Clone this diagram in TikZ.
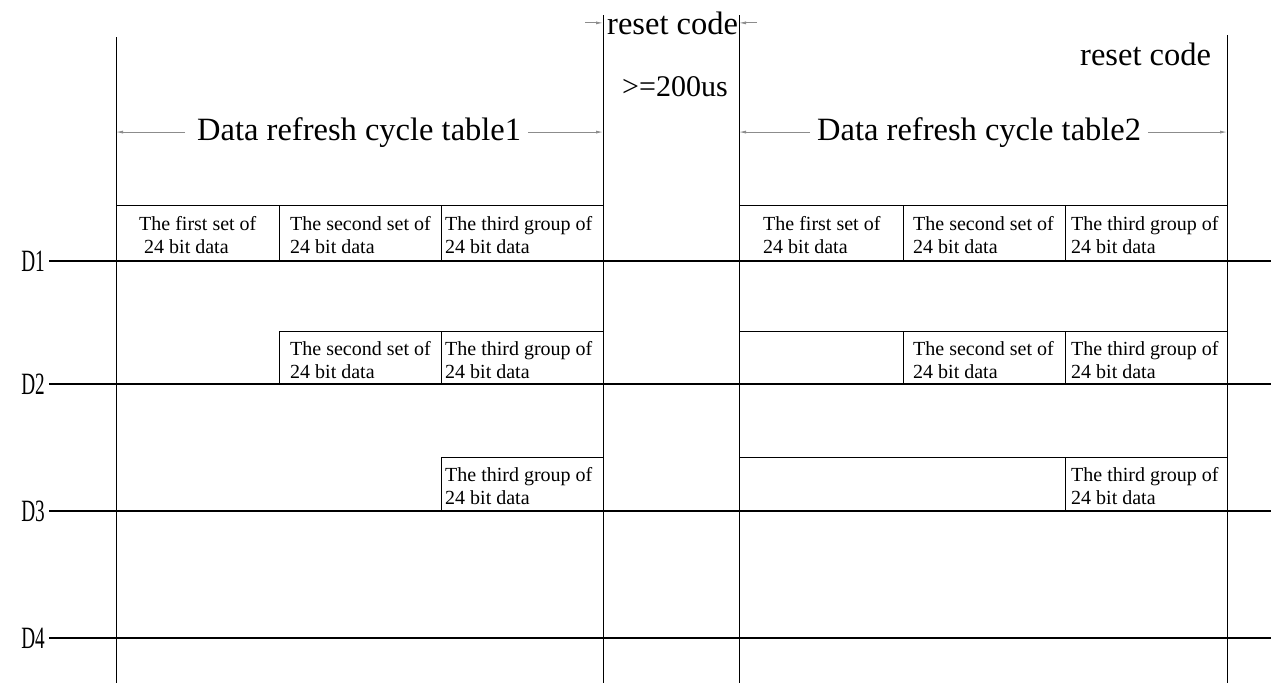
\documentclass[tikz,border=0pt]{standalone}
\usepackage{fontspec}
\usepackage{graphicx}
\setmainfont{Liberation Serif}
\usetikzlibrary{arrows.meta}
\newcommand{\datacell}[5]{%
  \node[cell] (#1a) at (#2,#3) {#4};
  \node[cell] (#1b) at (#2,#3+23) {#5};}
\begin{document}
\begin{tikzpicture}[x=1pt,y=-1pt,
  grid/.style={line width=1pt, black},
  sig/.style={line width=1.3pt, black},
  dim/.style={line width=0.8pt, black!45, -{Latex[length=7pt,width=3pt]}},
  big/.style={font=\fontsize{32.5}{36}\selectfont, inner sep=0, anchor=base west},
  cell/.style={font=\fontsize{20}{23}\selectfont, inner sep=0, anchor=base west},
  dlab/.style={inner sep=0, anchor=east}]
\useasboundingbox (0,0) rectangle (1271,683);

% column coordinates
\coordinate (c116) at (116,0);
\coordinate (c603) at (603,0);
\coordinate (c739) at (739,0);
\coordinate (c1227) at (1227,0);

% main vertical lines
\draw[grid] (116,37) -- (116,683);
\draw[grid] (603,15) -- (603,683);
\draw[grid] (739,15) -- (739,683);
\draw[grid] (1227,35) -- (1227,683);

% signal lines with labels
\foreach \n/\y in {1/261,2/384,3/511,4/638} {
  \node[dlab] (D\n) at (45,\y) {\scalebox{0.62}[1]{\fontsize{31}{31}\selectfont D\n}};
  \draw[sig, shorten <=4pt] (D\n.east) -- (1271,\y);
}

% table 1 frames
\draw[grid] (116,205) -- (603,205);
\draw[grid] (279,205) -- (279,261);
\draw[grid] (441,205) -- (441,261);
\draw[grid] (279,331) -- (603,331);
\draw[grid] (279,331) -- (279,384);
\draw[grid] (441,331) -- (441,384);
\draw[grid] (441,457) -- (603,457);
\draw[grid] (441,457) -- (441,511);

% table 2 frames
\draw[grid] (739,205) -- (1227,205);
\draw[grid] (903,205) -- (903,261);
\draw[grid] (1065,205) -- (1065,261);
\draw[grid] (739,331) -- (1227,331);
\draw[grid] (903,331) -- (903,384);
\draw[grid] (1065,331) -- (1065,384);
\draw[grid] (739,457) -- (1227,457);
\draw[grid] (1065,457) -- (1065,511);

% table 1 cells
\datacell{ta}{139}{230}{The first set of}{\hspace{5pt}24 bit data}
\datacell{tb}{290}{230}{The second set of}{24 bit data}
\datacell{tc}{445}{230}{The third group of}{24 bit data}
\datacell{td}{290}{355}{The second set of}{24 bit data}
\datacell{te}{445}{355}{The third group of}{24 bit data}
\datacell{tf}{445}{481}{The third group of}{24 bit data}

% table 2 cells
\datacell{ua}{763}{230}{The first set of}{24 bit data}
\datacell{ub}{913}{230}{The second set of}{24 bit data}
\datacell{uc}{1071}{230}{The third group of}{24 bit data}
\datacell{ud}{913}{355}{The second set of}{24 bit data}
\datacell{ue}{1071}{355}{The third group of}{24 bit data}
\datacell{uf}{1071}{481}{The third group of}{24 bit data}

% headings
\node[big] (tab1) at (197,140) {Data refresh cycle table1};
\node[big] (tab2) at (817,140) {Data refresh cycle table2};
\draw[dim] ([xshift=-12pt]tab1.west) -- (tab1.west -| c116);
\draw[dim] ([xshift=7pt]tab1.east) -- (tab1.east -| c603);
\draw[dim] ([xshift=-7pt]tab2.west) -- (tab2.west -| c739);
\draw[dim] ([xshift=7pt]tab2.east) -- (tab2.east -| c1227);

% reset code
\node[big] (rc1) at (607,34) {reset code};
\draw[dim] ([xshift=-18pt]rc1.west -| c603) -- (rc1.west -| c603);
\draw[dim] ([xshift=18pt]rc1.east -| c739) -- (rc1.east -| c739);
\node[big] (ge) at (622,96) {\fontsize{30}{30}\selectfont >=200us};
\node[big] (rc2) at (1080,65) {reset code};
\end{tikzpicture}
\end{document}
